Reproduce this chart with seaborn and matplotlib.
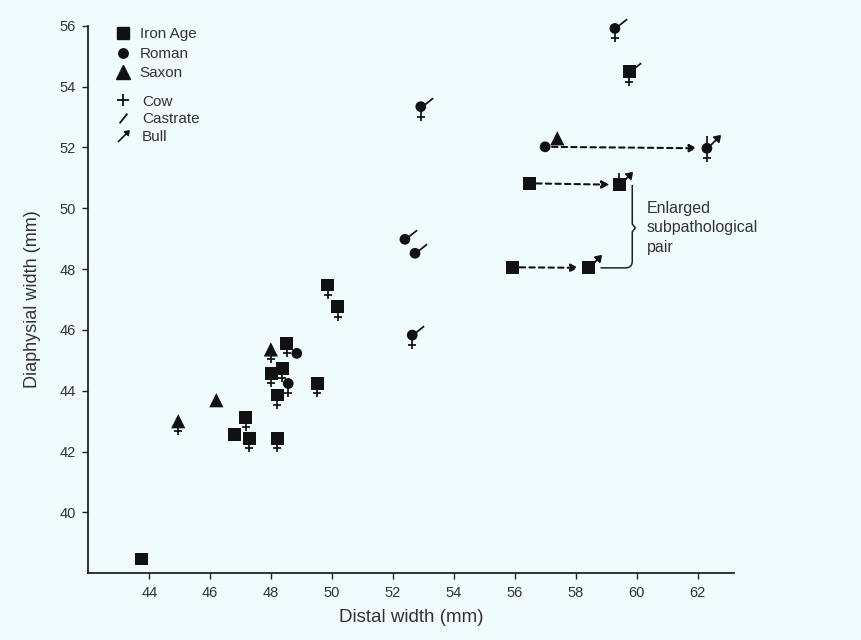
import pandas as pd
import matplotlib.pyplot as plt
from matplotlib.path import Path
from matplotlib.patches import PathPatch
from matplotlib.lines import Line2D
import seaborn as sns

# data
period = ['Iron Age', 'Saxon', 'Saxon', 'Iron Age', 'Iron Age', 'Iron Age', 'Iron Age',
          'Iron Age', 'Saxon', 'Iron Age', 'Roman', 'Iron Age', 'Iron Age', 'Roman',
          'Iron Age', 'Iron Age', 'Iron Age', 'Roman', 'Roman', 'Roman', 'Roman', 'Roman',
          'Iron Age', 'Roman', 'Saxon', 'Roman', 'Iron Age', 'Iron Age', 'Iron Age', 'Iron Age']
distal = [43.75, 44.95, 46.2, 46.8, 47.17, 47.28, 48.2, 48.0, 47.99, 48.51, 48.84, 48.37,
          48.2, 48.56, 49.51, 49.85, 50.18, 52.39, 52.72, 52.63, 52.91, 59.28, 59.75, 56.99,
          57.39, 62.3, 56.47, 59.43, 55.93, 58.41]
diaphysial = [38.47, 43.0, 43.69, 42.55, 43.13, 42.44, 42.44, 44.57, 45.36, 45.56, 45.23,
              44.74, 43.86, 44.24, 44.24, 47.48, 46.76, 48.98, 48.52, 45.83, 53.34, 55.91,
              54.49, 52.02, 52.3, 51.97, 50.82, 50.77, 48.06, 48.04]
# sex signs drawn on each point
lower_sign = ['', 'Cow', '', '', 'Cow', 'Cow', 'Cow', 'Cow', 'Cow', 'Cow', '', 'Cow', 'Cow',
              'Cow', 'Cow', 'Cow', 'Cow', '', '', 'Cow', 'Cow', 'Cow', 'Cow', '', '', 'Cow',
              '', '', '', '']
upper_sign = ['', '', '', '', '', '', '', '', '', '', '', '', '', '', '', '', '',
              'Castrate', 'Castrate', 'Castrate', 'Castrate', 'Castrate', 'Castrate', '', '',
              'Bull', '', 'Bull', '', 'Bull']
top_stub = [False] * 25 + [True, False, True, False, False]

# arrows: (from, to) indices, and the bracketed pair
pairs = [(23, 25), (26, 27), (28, 29)]
bracket_pair = (27, 29)
note = 'Enlarged\nsubpathological\npair'

df = pd.DataFrame({'period': period, 'distal': distal, 'diaphysial': diaphysial,
                   'lower': lower_sign, 'upper': upper_sign, 'stub': top_stub})

bg = '#f0fbfe'
ink = '#111111'
txt = '#333333'

sns.set_style('ticks', {'axes.facecolor': bg, 'figure.facecolor': bg,
                        'axes.edgecolor': '#222222'})
plt.rcParams['font.family'] = ['Liberation Sans', 'DejaVu Sans']

fig = plt.figure(figsize=(8.61, 6.4), dpi=100)
ax = fig.add_axes([0.1026, 0.1042, 0.7503, 0.8556])

M, L, C3, CL = Path.MOVETO, Path.LINETO, Path.CURVE3, Path.CLOSEPOLY
cow = Path([(0, 0), (0, -1), (-0.27, -0.7), (0.27, -0.7)], [M, L, M, L])
castrate = Path([(0, 0), (1, 0.8)], [M, L])
bull = Path([(0, 0), (0.85, 0.85), (1, 1), (0.5, 0.9), (0.9, 0.5), (1, 1)],
            [M, L, M, L, L, CL])
stub = Path([(0, 0), (0, 1)], [M, L])

sign_kw = dict(x='distal', y='diaphysial', color=ink, edgecolor=ink, linewidth=1.25,
               legend=False, ax=ax, zorder=2, clip_on=False)
sns.scatterplot(data=df[df['lower'] == 'Cow'], marker=cow, s=400, **sign_kw)
sns.scatterplot(data=df[df['upper'] == 'Castrate'], marker=castrate, s=280, **sign_kw)
sns.scatterplot(data=df[df['upper'] == 'Bull'], marker=bull, s=330, **sign_kw)
sns.scatterplot(data=df[df['stub']], marker=stub, s=300, **sign_kw)

sns.scatterplot(data=df, x='distal', y='diaphysial', style='period', size='period',
                markers={'Iron Age': 's', 'Roman': 'o', 'Saxon': '^'},
                sizes={'Iron Age': 85, 'Roman': 60, 'Saxon': 105},
                color=ink, linewidth=0, legend=False, ax=ax, zorder=3, clip_on=False)

for a, b in pairs:
    ax.annotate('', xy=(distal[b], diaphysial[b]), xytext=(distal[a], diaphysial[a]),
                arrowprops=dict(arrowstyle='-|>,head_length=0.45,head_width=0.22',
                                linestyle=(0, (2.6, 2.0)), lw=1.5, color=ink,
                                shrinkA=5, shrinkB=7), zorder=1)

# bracket linking the enlarged pair
t, b = bracket_pair
x0 = distal[t] + 0.42
ytop, ybot = diaphysial[t], diaphysial[b]
ymid = (ytop + ybot) / 2 - 0.05
xl = distal[b] + 0.4
verts = [(x0, ytop), (x0, ymid + 0.13), (x0 + 0.1, ymid), (x0, ymid - 0.13),
         (x0, ybot + 0.22), (x0, ybot), (x0 - 0.22, ybot), (xl, ybot)]
ax.add_patch(PathPatch(Path(verts, [M, L, L, L, L, C3, C3, L]), fill=False,
                       lw=1.1, edgecolor='#222222', zorder=1))
ax.text(x0 + 0.47, ymid, note, ha='left', va='center', fontsize=11.5, color=txt,
        linespacing=1.4)

ax.set_xlim(42, 63.2)
ax.set_ylim(38, 56)
ax.set_xticks(range(44, 63, 2))
ax.set_yticks(range(40, 57, 2))
ax.tick_params(direction='out', length=4, width=1, colors='#222222',
               labelcolor=txt, labelsize=10.5, pad=5)
sns.despine(ax=ax)
for s in ['left', 'bottom']:
    ax.spines[s].set_linewidth(1.3)

ax.set_xlabel('Distal width (mm)', fontsize=13.5, color=txt)
ax.set_ylabel('Diaphysial width (mm)', fontsize=13, color=txt)
ax.xaxis.set_label_coords(0.5, -0.066)
ax.yaxis.set_label_coords(-0.074, 0.5)

# legends
h1 = [Line2D([], [], ls='', marker='s', ms=8.5, color=ink),
      Line2D([], [], ls='', marker='o', ms=6.8, color=ink),
      Line2D([], [], ls='', marker='^', ms=9.5, color=ink)]
leg1 = ax.legend(h1, ['Iron Age', 'Roman', 'Saxon'], loc='upper left',
                 bbox_to_anchor=(0.039, 0.997), frameon=False, fontsize=11,
                 handlelength=1.2, handletextpad=0.5, labelspacing=0.36,
                 borderpad=0, borderaxespad=0, labelcolor=txt)
ax.add_artist(leg1)
slash_c = Path([(-0.8, -1), (0.8, 1)], [M, L])
arrow_c = Path([(-1, -1), (0.75, 0.75), (1, 1), (0.2, 0.85), (0.85, 0.2), (1, 1)],
               [M, L, M, L, L, CL])
h2 = [Line2D([], [], ls='', marker='+', ms=9, mew=1.3, color=ink),
      Line2D([], [], ls='', marker=slash_c, ms=7, mew=1.3, color=ink),
      Line2D([], [], ls='', marker=arrow_c, ms=8, mew=1.2, color=ink)]
ax.legend(h2, ['Cow', 'Castrate', 'Bull'], loc='upper left',
          bbox_to_anchor=(0.039, 0.874), frameon=False, fontsize=11,
          handlelength=1.2, handletextpad=0.65, labelspacing=0.24,
          borderpad=0, borderaxespad=0, labelcolor=txt)

fig.savefig('out.png', dpi=100, facecolor=bg)
